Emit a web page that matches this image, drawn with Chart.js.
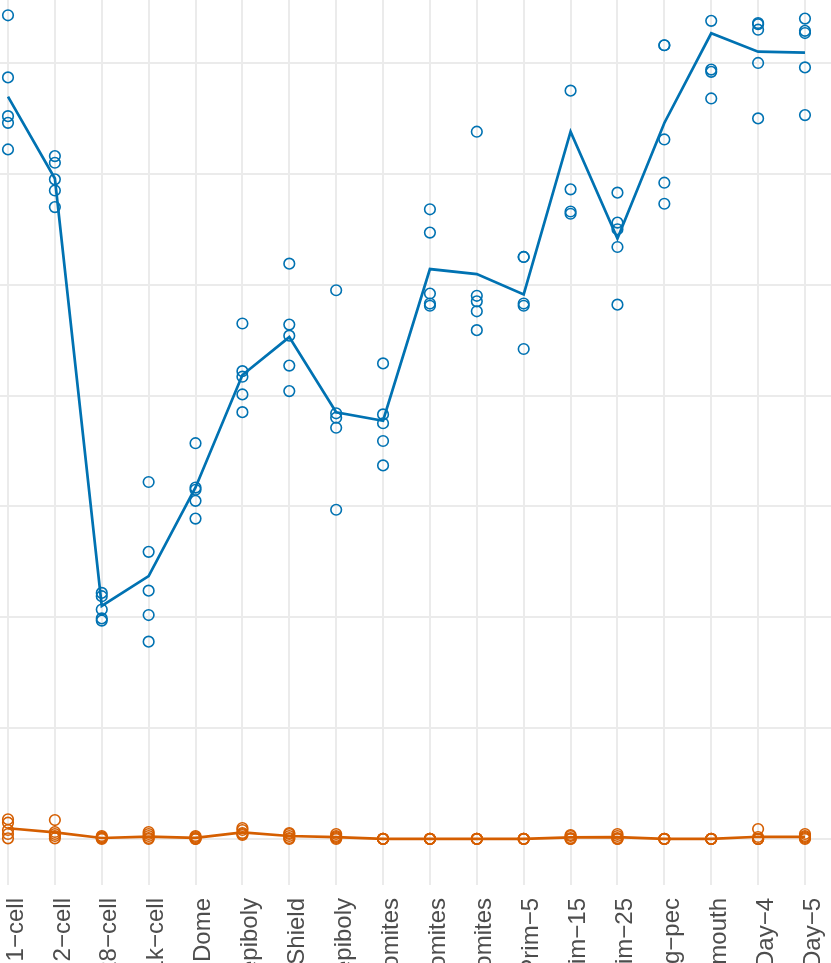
<!DOCTYPE html>
<html>
<head>
<meta charset="utf-8">
<script src="https://cdn.jsdelivr.net/npm/chart.js@4.4.1/dist/chart.umd.min.js"></script>
<style>
  html, body { margin: 0; padding: 0; background: #ffffff; overflow: hidden; }
  #wrap { width: 831px; height: 963px; overflow: hidden; }
</style>
</head>
<body>
<div id="wrap"><canvas id="c" width="831" height="963"></canvas></div>
<script>
// Stage categories (x axis)
const stages = ["1−cell", "2−cell", "128−cell", "1k−cell", "Dome", "50%−epiboly", "Shield",
  "75%−epiboly", "1−4somites", "14−19somites", "20−25somites", "Prim−5", "Prim−15",
  "Prim−25", "Long−pec", "Protruding−mouth", "Day−4", "Day−5"];

// Gene A (blue): five replicates per stage
const blueRep1 = [74.3, 61.6, 22.2, 32.2, 35.7, 46.5, 51.9, 49.5, 42.9, 56.8, 63.8, 52.5, 79.9, 58.3, 71.6, 84.1, 73.6, 74.0];
const blueRep2 = [68.7, 61.0, 21.9, 25.9, 31.7, 42.2, 46.4, 38.4, 38.3, 54.7, 49.0, 52.5, 67.5, 55.6, 71.6, 73.8, 73.5, 72.9];
const blueRep3 = [65.2, 59.5, 20.7, 22.4, 31.5, 41.7, 45.4, 38.0, 37.5, 49.2, 48.5, 48.3, 58.6, 55.0, 63.1, 69.4, 73.0, 72.7];
const blueRep4 = [64.6, 58.5, 19.9, 20.2, 30.5, 40.1, 42.7, 37.1, 35.9, 48.3, 47.6, 48.1, 56.6, 53.4, 59.2, 69.2, 70.0, 69.6];
const blueRep5 = [62.2, 57.0, 19.7, 17.8, 28.9, 38.5, 40.4, 29.7, 33.7, 48.1, 45.9, 44.2, 56.4, 48.2, 57.3, 66.8, 65.0, 65.3];
const blueMean = [66.96, 59.58, 21.02, 23.72, 31.71, 41.85, 45.27, 38.49, 37.73, 51.41, 50.96, 49.12, 63.80, 54.17, 64.59, 72.68, 71.02, 70.93];

// Gene B (orange): five replicates per stage
const orangeRep1 = [1.78, 1.71, 0.27, 0.63, 0.27, 0.99, 0.54, 0.45, 0.02, 0.02, 0.02, 0.02, 0.36, 0.45, 0.02, 0.02, 0.90, 0.45];
const orangeRep2 = [1.47, 0.63, 0.18, 0.45, 0.18, 0.81, 0.45, 0.27, 0.02, 0.02, 0.02, 0.02, 0.27, 0.27, 0.01, 0.01, 0.18, 0.27];
const orangeRep3 = [0.81, 0.45, 0.09, 0.27, 0.09, 0.54, 0.27, 0.18, 0.01, 0.01, 0.01, 0.01, 0.09, 0.09, 0.01, 0.01, 0.00, 0.18];
const orangeRep4 = [0.45, 0.27, 0.09, 0.09, 0.00, 0.45, 0.09, 0.09, 0.01, 0.01, 0.01, 0.01, 0.00, 0.00, 0.00, 0.00, 0.00, 0.09];
const orangeRep5 = [0.06, 0.06, 0.00, 0.00, 0.00, 0.36, 0.00, 0.00, 0.00, 0.00, 0.00, 0.00, 0.00, 0.00, 0.00, 0.00, 0.00, 0.00];
const orangeMean = [0.97, 0.59, 0.09, 0.21, 0.11, 0.59, 0.27, 0.16, 0.01, 0.01, 0.01, 0.01, 0.14, 0.16, 0.01, 0.01, 0.20, 0.20];

// y gridline values
const yGridValues = [0, 10, 20, 30, 40, 50, 60, 70];

const BLUE = "#0072B2";
const ORANGE = "#D55E00";

function toXY(arr) { return arr.map((v, i) => ({ x: i, y: v })); }
function pts(reps) {
  const out = [];
  reps.forEach(r => r.forEach((v, i) => out.push({ x: i, y: v })));
  return out;
}

const pointStyle = (color) => ({
  type: "scatter",
  showLine: false,
  pointStyle: "circle",
  pointRadius: 5.3,
  pointHoverRadius: 5.3,
  pointBorderWidth: 1.6,
  pointBorderColor: color,
  pointBackgroundColor: "rgba(0,0,0,0)",
  borderColor: color,
  backgroundColor: "rgba(0,0,0,0)",
  clip: false
});
const lineStyle = (color) => ({
  type: "line",
  borderColor: color,
  borderWidth: 2.7,
  pointRadius: 0,
  pointHoverRadius: 0,
  fill: false,
  tension: 0
});

new Chart(document.getElementById("c"), {
  type: "line",
  data: {
    datasets: [
      Object.assign({ label: "A mean", data: toXY(blueMean), order: 1 }, lineStyle(BLUE)),
      Object.assign({ label: "B mean", data: toXY(orangeMean), order: 1 }, lineStyle(ORANGE)),
      Object.assign({ label: "A", data: pts([blueRep1, blueRep2, blueRep3, blueRep4, blueRep5]), order: 2 }, pointStyle(BLUE)),
      Object.assign({ label: "B", data: pts([orangeRep1, orangeRep2, orangeRep3, orangeRep4, orangeRep5]), order: 2 }, pointStyle(ORANGE))
    ]
  },
  options: {
    responsive: false,
    animation: false,
    events: [],
    layout: { padding: 0, autoPadding: false },
    plugins: { legend: { display: false }, tooltip: { enabled: false }, title: { display: false } },
    scales: {
      x: {
        type: "linear",
        min: -0.1706,
        max: 17.555,
        afterBuildTicks: (s) => { s.ticks = stages.map((_, i) => ({ value: i })); },
        afterFit: (s) => { s.height = 78; s.paddingLeft = 0; s.paddingRight = 0; },
        grid: { color: "#EBEBEB", lineWidth: 2, drawTicks: false },
        border: { display: false },
        ticks: {
          autoSkip: false,
          minRotation: 90,
          maxRotation: 90,
          padding: 13,
          labelOffset: 8,
          color: "#4D4D4D",
          font: { family: "'Liberation Sans', Arial, sans-serif", size: 24 },
          callback: (v) => stages[v]
        }
      },
      y: {
        type: "linear",
        min: -4.15,
        max: 75.68,
        afterBuildTicks: (s) => { s.ticks = yGridValues.map(v => ({ value: v })); },
        afterFit: (s) => { s.width = 0; s.paddingTop = 0; s.paddingBottom = 0; },
        grid: { color: "#EBEBEB", lineWidth: 2, drawTicks: false },
        border: { display: false },
        ticks: { display: false }
      }
    }
  }
});
</script>
</body>
</html>
